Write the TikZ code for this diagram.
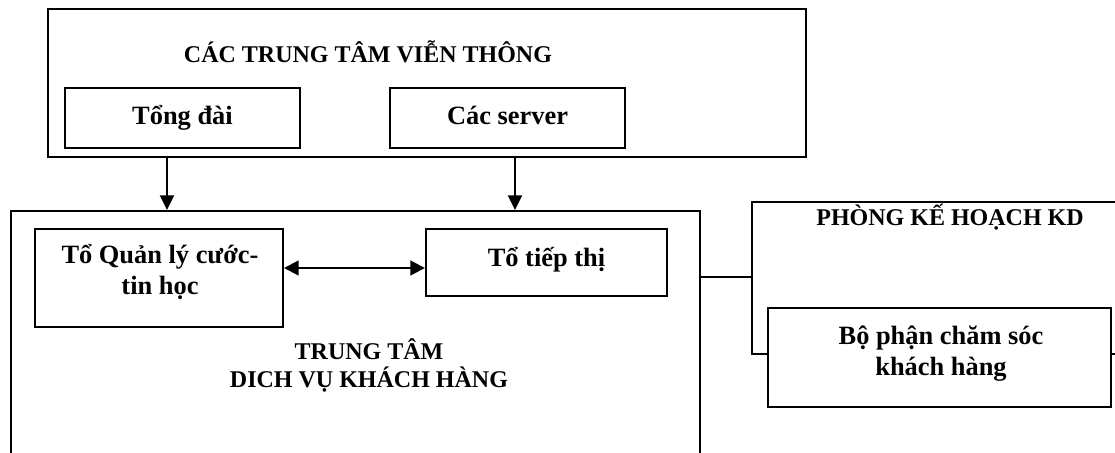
\documentclass[tikz,border=0pt]{standalone}
\usepackage{fontspec}
\setmainfont{Liberation Serif}
\usetikzlibrary{arrows.meta,fit}
\begin{document}
\begin{tikzpicture}[x=0.75pt,y=-0.75pt,
  box/.style={draw, line width=1.5pt, inner sep=0pt, fill=white},
  arr/.style={line width=1.5pt, -{Triangle[length=11pt,width=10.5pt]}},
  darr/.style={line width=1.7pt, {Triangle[length=11pt,width=11pt]}-{Triangle[length=11pt,width=11pt]}},
  conn/.style={line width=1.5pt},
  lbl/.style={font=\fontsize{19.8}{23.25}\selectfont\bfseries, inner sep=0pt, anchor=base, align=flush center},
  ttl/.style={font=\fontsize{18}{21}\selectfont\bfseries, inner sep=0pt, anchor=base, align=flush center}]
\useasboundingbox (0,0) rectangle (1115,453);
\fill[white] (0,0) rectangle (1115,453);
\clip (0,0) rectangle (1115,453);

% top block
\node[box, fit={(48,9.5) (806,157)}] (tv) {};
\node[box, fit={(65,88) (300,148)}] (td) {};
\node[box, fit={(390,88) (625,148)}] (sv) {};
\node[ttl] (tvt) at (368,63) {CÁC TRUNG TÂM VIỄN THÔNG};
\node[lbl] (tdt) at (182.5,125) {Tổng đài};
\node[lbl] (svt) at (507.5,125) {Các server};

% customer service centre
\node[box, fit={(10.7,211) (700,480)}] (dv) {};
\node[box, fit={(35,229) (283,327)}] (ql) {};
\node[box, fit={(426,229) (667,296)}] (tt) {};
\node[lbl, text width=250pt] (qlt) at (160,263) {Tổ Quản lý cước-\\tin học};
\node[lbl] (ttt) at (546.5,266) {Tổ tiếp thị};
\node[ttl, text width=300pt] (dvt) at (369,359) {TRUNG TÂM\\DICH VỤ KHÁCH HÀNG};

% planning department
\node[box, fit={(752,202) (1140,354)}] (pk) {};
\node[ttl] (pkt) at (950,225) {PHÒNG KẾ HOẠCH KD};
\node[box, fit={(768,308) (1111,407)}] (bp) {};
\node[lbl, text width=300pt] (bpt) at (941,344) {Bộ phận chăm sóc\\khách hàng};

% connectors
\coordinate (xa) at (167,0);
\coordinate (xb) at (515,0);
\coordinate (ya) at (0,268);
\coordinate (yb) at (0,277);
\draw[arr] (tv.south -| xa) -- (dv.north -| xa);
\draw[arr] (tv.south -| xb) -- (dv.north -| xb);
\draw[darr] (ql.east |- ya) -- (tt.west |- ya);
\draw[conn] (dv.east |- yb) -- (pk.west |- yb);
\end{tikzpicture}
\end{document}
